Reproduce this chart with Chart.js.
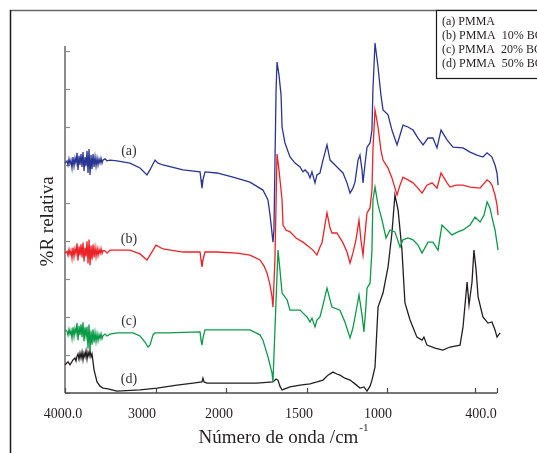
<!DOCTYPE html>
<html>
<head>
<meta charset="utf-8">
<script src="https://cdn.jsdelivr.net/npm/chart.js@4.4.0/dist/chart.umd.min.js"></script>
<style>
  html, body { margin: 0; padding: 0; background: #ffffff; }
  canvas { display: block; }
</style>
</head>
<body>
<canvas id="c" width="537" height="453"></canvas>
<script>
// ---------------- data (wavenumber cm-1, %R relativa) ----------------
const seriesA = [[4000,60.5],[3978,61.1],[3967,60.0],[3956,61.6],[3945,60.3],[3934,61.3],[3923,59.2],[3912,62.1],[3901,59.7],[3890,61.8],[3879,60.5],[3868,63.2],[3857,58.7],[3846,62.4],[3835,60.0],[3824,62.9],[3813,59.5],[3802,63.4],[3791,58.4],[3780,62.1],[3769,59.7],[3758,63.7],[3747,57.9],[3736,64.2],[3725,57.4],[3714,62.6],[3703,58.9],[3692,62.9],[3681,59.5],[3670,62.1],[3659,59.7],[3648,61.8],[3637,60.0],[3626,61.6],[3615,60.5],[3604,61.8],[3593,60.5],[3582,61.3],[3560,61.6],[3538,61.1],[3505,61.3],[3429,61.1],[3286,60.5],[3176,59.2],[3099,57.4],[3066,58.7],[3011,61.3],[2971,60.5],[2900,60.0],[2614,58.7],[2371,58.2],[2357,56.1],[2343,53.9],[2329,56.1],[2300,58.2],[2129,57.9],[1957,56.8],[1852,55.5],[1772,53.4],[1741,50.8],[1728,46.8],[1710,39.7],[1704,42.9],[1691,79.7],[1685,87.1],[1673,83.7],[1660,78.4],[1654,70.0],[1636,65.8],[1605,62.1],[1574,60.5],[1543,59.5],[1525,58.2],[1512,58.7],[1494,57.9],[1481,56.6],[1469,58.2],[1450,55.3],[1438,57.4],[1419,57.9],[1400,61.3],[1375,65.3],[1356,61.3],[1325,60.0],[1294,58.7],[1275,57.9],[1250,55.3],[1231,52.6],[1213,53.9],[1200,55.5],[1181,61.3],[1169,62.6],[1156,58.7],[1150,55.3],[1138,60.0],[1125,64.7],[1106,65.8],[1094,69.2],[1088,79.7],[1075,92.1],[1056,85.8],[1038,78.4],[1025,74.5],[994,73.2],[972,69.2],[943,65.3],[926,67.9],[909,70.5],[881,70.0],[852,69.2],[824,67.1],[795,65.3],[767,67.1],[739,67.1],[716,64.5],[693,69.2],[659,66.6],[625,64.7],[568,64.5],[528,63.4],[491,62.6],[464,62.1],[445,63.2],[432,62.6],[423,62.1],[409,60.0],[400,57.9],[395,54.7]];

const seriesB = [[4000,36.8],[3978,37.3],[3967,36.2],[3956,37.8],[3945,36.5],[3934,37.5],[3923,35.4],[3912,38.3],[3901,35.9],[3890,38.0],[3879,36.7],[3868,39.4],[3857,34.9],[3846,38.6],[3835,36.2],[3824,39.1],[3813,35.7],[3802,39.6],[3791,34.6],[3780,38.3],[3769,35.9],[3758,39.9],[3747,34.1],[3736,40.4],[3725,33.6],[3714,38.8],[3703,35.1],[3692,39.1],[3681,35.7],[3670,38.3],[3659,35.9],[3648,38.0],[3637,36.2],[3626,37.8],[3615,36.7],[3604,38.0],[3593,36.7],[3582,37.5],[3560,37.4],[3538,36.8],[3505,37.6],[3286,37.6],[3176,36.6],[3099,35.0],[3066,36.3],[3000,38.9],[2900,37.9],[2614,37.1],[2371,37.1],[2357,35.0],[2343,33.2],[2329,35.0],[2300,37.1],[2129,37.1],[1932,36.8],[1852,36.3],[1790,35.0],[1765,33.4],[1747,31.6],[1728,28.4],[1716,25.3],[1710,22.6],[1698,35.0],[1685,62.9],[1673,58.7],[1660,53.4],[1654,50.8],[1648,44.2],[1630,42.9],[1605,42.4],[1568,40.8],[1525,39.7],[1494,38.7],[1463,37.6],[1438,36.3],[1419,38.4],[1406,39.5],[1388,44.2],[1375,47.4],[1356,43.4],[1344,42.1],[1313,42.1],[1294,40.8],[1275,39.5],[1250,37.1],[1231,34.2],[1213,36.8],[1194,40.3],[1175,45.5],[1163,40.3],[1150,36.3],[1138,41.6],[1125,47.4],[1106,48.7],[1094,53.4],[1088,63.9],[1075,74.5],[1056,70.0],[1038,63.9],[1025,61.3],[994,59.2],[972,56.6],[943,52.1],[926,54.7],[909,56.8],[881,56.1],[852,55.3],[824,53.9],[801,52.6],[773,54.7],[744,55.3],[716,53.9],[693,57.9],[659,55.3],[642,54.2],[608,54.7],[568,54.7],[528,54.2],[477,53.9],[445,56.1],[432,55.5],[423,54.7],[409,52.1],[400,49.5],[395,46.8]];

const seriesC = [[4000,16.6],[3978,16.3],[3967,15.2],[3956,16.8],[3945,15.5],[3934,16.5],[3923,14.4],[3912,17.3],[3901,14.9],[3890,17.0],[3879,15.7],[3868,18.4],[3857,13.9],[3846,17.6],[3835,15.2],[3824,18.1],[3813,14.7],[3802,18.6],[3791,13.6],[3780,17.3],[3769,14.9],[3758,17.5],[3747,11.7],[3736,18.0],[3725,11.2],[3714,16.4],[3703,12.7],[3692,16.7],[3681,13.3],[3670,15.9],[3659,13.5],[3648,15.6],[3637,13.8],[3626,15.4],[3615,14.3],[3604,15.6],[3593,14.3],[3582,15.1],[3560,15.5],[3538,15.0],[3505,15.5],[3429,15.8],[3253,15.8],[3176,15.0],[3121,13.4],[3088,12.1],[3066,12.6],[3033,15.3],[3011,15.8],[2843,15.8],[2371,16.1],[2357,13.9],[2343,12.6],[2329,14.5],[2300,16.6],[2129,16.6],[1852,16.6],[1790,15.3],[1772,13.9],[1741,9.5],[1716,5.3],[1710,2.9],[1698,16.6],[1679,37.6],[1667,32.4],[1654,26.3],[1623,24.5],[1605,21.8],[1543,21.8],[1512,20.5],[1500,20.0],[1481,18.7],[1469,19.7],[1450,17.4],[1438,19.2],[1419,20.0],[1400,23.2],[1375,27.6],[1356,24.5],[1344,22.6],[1294,21.8],[1263,18.7],[1231,14.5],[1213,17.1],[1200,20.0],[1175,25.8],[1156,20.5],[1144,16.1],[1131,23.2],[1125,27.6],[1106,28.9],[1094,37.6],[1088,50.8],[1075,54.2],[1056,49.5],[1031,45.5],[1006,40.8],[983,42.9],[955,42.4],[926,38.4],[909,40.3],[881,40.8],[852,40.3],[824,38.9],[801,36.8],[767,39.7],[739,39.7],[710,37.6],[688,44.2],[659,42.9],[631,41.6],[597,42.4],[568,42.9],[528,44.2],[500,46.3],[477,45.0],[459,46.8],[445,50.3],[432,48.7],[423,46.3],[409,42.9],[395,37.6]];

const seriesD = [[4000,7.4],[3967,8.2],[3945,7.4],[3912,8.7],[3890,9.2],[3879,8.4],[3868,9.7],[3857,10.3],[3846,8.9],[3835,10.5],[3824,9.2],[3813,10.8],[3802,8.7],[3791,10.5],[3780,9.5],[3769,11.1],[3758,8.9],[3747,10.8],[3736,9.7],[3725,11.1],[3714,9.5],[3703,10.3],[3692,8.2],[3681,6.1],[3648,2.9],[3615,1.8],[3582,1.3],[3527,1.1],[3429,0.5],[3176,0.8],[2986,1.3],[2700,2.1],[2471,2.6],[2343,2.9],[2329,3.9],[2314,2.9],[2271,2.6],[1957,2.6],[1809,2.6],[1710,2.9],[1691,3.7],[1679,3.4],[1667,1.8],[1654,0.8],[1605,1.6],[1543,2.1],[1481,2.4],[1438,2.9],[1400,3.4],[1369,4.7],[1338,5.5],[1313,5.0],[1294,4.7],[1263,3.9],[1231,3.4],[1200,2.4],[1169,1.3],[1144,1.6],[1125,0.5],[1106,1.8],[1094,3.4],[1075,6.8],[1056,22.6],[1025,26.3],[994,33.2],[972,42.1],[955,52.1],[937,48.2],[915,37.6],[898,23.7],[869,19.2],[830,14.7],[801,13.9],[790,14.7],[773,12.6],[727,11.8],[682,11.3],[642,12.1],[585,12.6],[568,17.4],[545,29.2],[534,23.2],[517,29.2],[506,37.6],[495,32.4],[486,25.3],[464,20.0],[441,18.4],[423,18.7],[409,16.6],[400,14.7],[386,15.8]];

const seriesNames = ['(a)', '(b)', '(c)', '(d)'];
const legendLines = ['(a) PMMA', '(b) PMMA  10% BC', '(c) PMMA  20% BC', '(d) PMMA  50% BC'];
const xTicks = [4000, 3000, 2000, 1500, 1000, 500, 400];
const xTickLabels = ['4000.0', '3000', '2000', '1500', '1000', '', '400.0'];
const yTicks = [0, 10, 20, 30, 40, 50, 60, 70, 80, 90];

// ---------------- styles / layout ----------------
const COLORS = ['#2a3593', '#ec2227', '#0b9a48', '#231f20'];
const SERIF = '"Liberation Serif", "Times New Roman", serif';
const xLabelShift = [-2, -14, -7, -8, -9, 0, -16];
const nameAnchorWn = 3297;
const nameAnchorVal = [63.7, 40.5, 18.9, 3.7];

// axis scale with a change of scale (as on the instrument plot)
const BREAK_WN = [4000, 3000, 2000, 1500, 1000, 500, 400];
const BREAK_FR = [0, 91/432, 161/432, 242/432, 322/432, 410/432, 1];
function wnToFrac(v) {
  const n = BREAK_WN.length;
  let i = 0;
  if (v >= BREAK_WN[0]) i = 0;
  else if (v <= BREAK_WN[n-1]) i = n - 2;
  else { while (i < n - 2 && v < BREAK_WN[i+1]) i++; }
  const t = (v - BREAK_WN[i]) / (BREAK_WN[i+1] - BREAK_WN[i]);
  return BREAK_FR[i] + t * (BREAK_FR[i+1] - BREAK_FR[i]);
}
function fracToWn(f) {
  const n = BREAK_FR.length;
  let i = 0;
  if (f <= 0) i = 0;
  else if (f >= 1) i = n - 2;
  else { while (i < n - 2 && f > BREAK_FR[i+1]) i++; }
  const t = (f - BREAK_FR[i]) / (BREAK_FR[i+1] - BREAK_FR[i]);
  return BREAK_WN[i] + t * (BREAK_WN[i+1] - BREAK_WN[i]);
}
class WavenumberScale extends Chart.LinearScale {
  getPixelForValue(value) { return this.left + wnToFrac(value) * this.width; }
  getValueForPixel(pixel) { return fracToWn((pixel - this.left) / this.width); }
}
WavenumberScale.id = 'wavenumber';
WavenumberScale.defaults = Chart.LinearScale.defaults;
Chart.register(WavenumberScale);

const toPts = arr => arr.map(p => ({ x: p[0], y: p[1] }));

const decorations = {
  id: 'decorations',
  beforeDatasetsDraw(chart) {
    const ctx = chart.ctx;
    const xs = chart.scales.x, ys = chart.scales.y;
    const x0 = xs.getPixelForValue(4000), x1 = xs.getPixelForValue(400);
    const yb = ys.getPixelForValue(0), yt = ys.getPixelForValue(91.3);
    ctx.save();
    // outer frame
    ctx.strokeStyle = '#6a6a6a'; ctx.lineWidth = 1.5;
    ctx.beginPath(); ctx.moveTo(10, 10.5); ctx.lineTo(537, 10.5); ctx.stroke();
    ctx.strokeStyle = '#1a1a1a';
    ctx.beginPath(); ctx.moveTo(10.5, 10); ctx.lineTo(10.5, 453); ctx.stroke();
    // left axis
    ctx.strokeStyle = '#8c8c8c'; ctx.lineWidth = 2;
    ctx.beginPath(); ctx.moveTo(x0, yt); ctx.lineTo(x0, yb); ctx.stroke();
    ctx.lineWidth = 1.2;
    yTicks.forEach(v => {
      const y = Math.round(ys.getPixelForValue(v)) + 0.5;
      ctx.beginPath(); ctx.moveTo(x0, y); ctx.lineTo(x0 + 5, y); ctx.stroke();
    });
    // bottom axis
    ctx.strokeStyle = '#4a4a4a'; ctx.lineWidth = 1.5;
    ctx.beginPath(); ctx.moveTo(x0, yb); ctx.lineTo(x1, yb); ctx.stroke();
    ctx.lineWidth = 1.2;
    xTicks.forEach(v => {
      const x = Math.round(xs.getPixelForValue(v)) + 0.5;
      ctx.beginPath(); ctx.moveTo(x, yb); ctx.lineTo(x, yb - 5); ctx.stroke();
    });
    ctx.restore();
  },
  afterDraw(chart) {
    const ctx = chart.ctx;
    const xs = chart.scales.x, ys = chart.scales.y;
    const yb = ys.getPixelForValue(0);
    ctx.save();
    ctx.fillStyle = '#231f20';
    // x tick labels
    ctx.font = '14px ' + SERIF;
    ctx.textAlign = 'center'; ctx.textBaseline = 'alphabetic';
    xTicks.forEach((v, i) => {
      if (!xTickLabels[i]) return;
      ctx.fillText(xTickLabels[i], xs.getPixelForValue(v) + xLabelShift[i], yb + 25);
    });
    // x title with superscript
    ctx.font = '19px ' + SERIF;
    const t = 'Número de onda /cm';
    const w = ctx.measureText(t).width;
    ctx.font = '11px ' + SERIF;
    const ws = ctx.measureText('-1').width;
    const cx = (xs.left + xs.right) / 2 + 2;
    const tx = cx - (w + ws) / 2;
    ctx.textAlign = 'left';
    ctx.font = '19px ' + SERIF;
    ctx.fillText(t, tx, yb + 50);
    ctx.font = '11px ' + SERIF;
    ctx.fillText('-1', tx + w + 1, yb + 38);
    // y title
    ctx.save();
    ctx.translate(53, (ys.top + ys.bottom) / 2 + 5);
    ctx.rotate(-Math.PI / 2);
    ctx.font = '19px ' + SERIF;
    ctx.textAlign = 'center';
    ctx.fillText('%R relativa', 0, 0);
    ctx.restore();
    // series labels
    ctx.font = '14px ' + SERIF;
    ctx.textAlign = 'center'; ctx.textBaseline = 'middle';
    ctx.fillStyle = '#333333';
    seriesNames.forEach((s, i) => {
      ctx.fillText(s, xs.getPixelForValue(nameAnchorWn), ys.getPixelForValue(nameAnchorVal[i]));
    });
    // legend box
    ctx.fillStyle = '#ffffff';
    ctx.fillRect(436, 10, 110, 69);
    ctx.strokeStyle = '#1a1a1a'; ctx.lineWidth = 1.2;
    ctx.strokeRect(436.5, 10.5, 120, 68);
    ctx.fillStyle = '#231f20';
    ctx.font = '12px ' + SERIF;
    ctx.textAlign = 'left'; ctx.textBaseline = 'alphabetic';
    legendLines.forEach((s, i) => ctx.fillText(s, 442, 25 + i * 14));
    ctx.restore();
  }
};

new Chart(document.getElementById('c'), {
  type: 'line',
  data: {
    datasets: [seriesA, seriesB, seriesC, seriesD].map((s, i) => ({
      label: seriesNames[i],
      data: toPts(s),
      borderColor: COLORS[i],
      borderWidth: 1.3,
      pointRadius: 0,
      tension: 0,
      fill: false,
      clip: false
    }))
  },
  options: {
    responsive: false,
    animation: false,
    devicePixelRatio: 1,
    parsing: true,
    layout: { padding: { left: 65, right: 40, top: 39.6, bottom: 60 } },
    plugins: { legend: { display: false }, tooltip: { enabled: false } },
    scales: {
      x: { type: 'wavenumber', min: 400, max: 4000, display: false },
      y: { type: 'linear', min: 0, max: 93, display: false }
    }
  },
  plugins: [decorations]
});
</script>
</body>
</html>
